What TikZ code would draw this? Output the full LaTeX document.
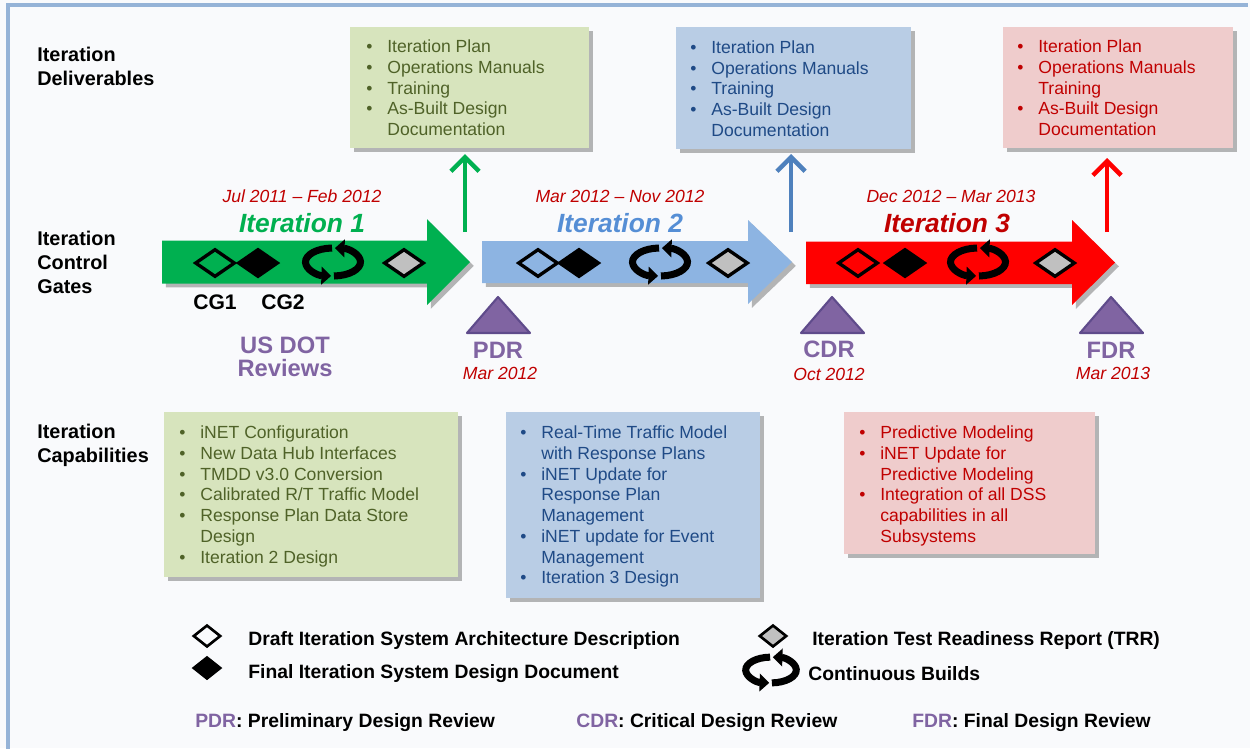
\documentclass[tikz,border=0pt]{standalone}
\usepackage{fontspec}
\setmainfont{Liberation Sans}
\usetikzlibrary{arrows.meta,shapes.geometric,shadows}
\definecolor{bg}{HTML}{F9FAFC}
\definecolor{framec}{HTML}{95B3D7}
\definecolor{igreen}{HTML}{00B050}
\definecolor{iblue}{HTML}{8DB4E2}
\definecolor{ired}{HTML}{FF0000}
\definecolor{ublue}{HTML}{4F81BD}
\definecolor{lblue}{HTML}{558ED5}
\definecolor{dred}{HTML}{C00000}
\definecolor{gfill}{HTML}{D7E4BD}
\definecolor{gtext}{HTML}{4F6228}
\definecolor{bfill}{HTML}{B9CDE5}
\definecolor{btext}{HTML}{1F4A86}
\definecolor{rfill}{HTML}{EFCCCC}
\definecolor{rtext}{HTML}{C00000}
\definecolor{purp}{HTML}{8064A2}
\definecolor{purpd}{HTML}{5F4B8B}
\definecolor{tgray}{HTML}{C0C0C0}
\newcommand\bu{\makebox[11.95pt][l]{\textbullet}}
\newcommand\nb{\hspace*{11.95pt}}
\tikzset{
  shad/.style={drop shadow={shadow xshift=2.2pt, shadow yshift=-2.2pt, opacity=0.4, fill=black!70}},
  box/.style={rectangle, inner sep=0, outer sep=0, anchor=north west, shad},
  boxtext/.style={anchor=north west, inner sep=0, align=left, font=\fontsize{10}{11.8}\selectfont},
  sidelab/.style={anchor=north west, inner sep=0, align=left, font=\fontsize{11.3}{13.5}\selectfont\bfseries},
  itlab/.style={anchor=base, inner sep=0, font=\fontsize{15}{18}\selectfont\bfseries\itshape},
  datelab/.style={anchor=base, inner sep=0, text=dred, font=\fontsize{10}{12}\selectfont\itshape},
  revlab/.style={anchor=base, inner sep=0, text=purp, font=\fontsize{13.5}{16}\selectfont\bfseries},
  cglab/.style={anchor=base, inner sep=0, font=\fontsize{12}{14}\selectfont\bfseries},
  legend/.style={anchor=base west, inner sep=0, font=\fontsize{11}{13}\selectfont\bfseries},
  dia/.style={diamond, draw=black, line width=1.9pt, inner sep=0, minimum width=0.8cm, minimum height=0.56cm},
  ldia/.style={diamond, draw=black, line width=1.5pt, inner sep=0, minimum width=0.55cm, minimum height=0.44cm},
  uparrow/.style={line width=2.6pt, -{Straight Barb[length=8pt, width=16pt]}},
  tri/.style={fill=purp, draw=purpd, line width=1.2pt, line join=round},
  cyc/.pic={
    \draw[line width=4pt, -{Triangle[length=5.5pt, width=10pt]}] (92:0.55cm and 0.28cm) arc[start angle=92, end angle=266, x radius=0.55cm, y radius=0.28cm];
    \draw[line width=4pt, -{Triangle[length=5.5pt, width=10pt]}] (272:0.55cm and 0.28cm) arc[start angle=272, end angle=446, x radius=0.55cm, y radius=0.28cm];
  }
}
\begin{document}
\begin{tikzpicture}[x=0.02cm, y=-0.02cm]
\useasboundingbox (0,0) rectangle (1250,748);
\fill[bg] (0,0) rectangle (1250,748);
\draw[framec, line width=1.8pt] (8,750) -- (8,5) -- (1248,5);

% side labels
\node[sidelab] (sl1) at (37,46.9) {Iteration\\Deliverables};
\node[sidelab] (sl2) at (37,230.9) {Iteration\\Control\\Gates};
\node[sidelab] (sl3) at (37,423.9) {Iteration\\Capabilities};

% deliverable boxes
\node[box, fill=gfill, minimum width=4.78cm, minimum height=2.42cm] (d1) at (350,27) {};
\node[boxtext, text=gtext] (d1t) at (366,39.7) {\bu Iteration Plan\\ \bu Operations Manuals\\ \bu Training\\ \bu As-Built Design\\ \nb Documentation};
\node[box, fill=bfill, minimum width=4.7cm, minimum height=2.44cm] (d2) at (676,27) {};
\node[boxtext, text=btext] (d2t) at (690,40.2) {\bu Iteration Plan\\ \bu Operations Manuals\\ \bu Training\\ \bu As-Built Design\\ \nb Documentation};
\node[box, fill=rfill, minimum width=4.6cm, minimum height=2.42cm] (d3) at (1003,27) {};
\node[boxtext, text=rtext] (d3t) at (1017,39.5) {\bu Iteration Plan\\ \bu Operations Manuals\\ \nb Training\\ \bu As-Built Design\\ \nb Documentation};

% big arrows
\path[fill=igreen, shad] (162,240.5) -- (427,240.5) -- (427,219) -- (470,262) -- (427,305) -- (427,283.5) -- (162,283.5) -- cycle;
\path[fill=iblue, shad] (482,241) -- (748,241) -- (748,220) -- (792,262) -- (748,304) -- (748,283) -- (482,283) -- cycle;
\path[fill=ired, shad] (806,241.5) -- (1072,241.5) -- (1072,220) -- (1115,262.5) -- (1072,305) -- (1072,284) -- (806,284) -- cycle;

% up arrows
\coordinate (u1b) at (465,232); \coordinate (u1t) at (465,154);
\coordinate (u2b) at (791,232); \coordinate (u2t) at (791,154);
\coordinate (u3b) at (1107,232); \coordinate (u3t) at (1107,158);
\draw[uparrow, igreen] (u1b) -- (u1t);
\draw[uparrow, ublue] (u2b) -- (u2t);
\draw[uparrow, ired] (u3b) -- (u3t);

% iteration labels
\node[datelab] (dt1) at (302,202) {Jul 2011 – Feb 2012};
\node[datelab] (dt2) at (620,202) {Mar 2012 – Nov 2012};
\node[datelab] (dt3) at (951,202) {Dec 2012 – Mar 2013};
\node[itlab, text=igreen] (it1) at (302,232.4) {Iteration 1};
\node[itlab, text=lblue] (it2) at (620,232.4) {Iteration 2};
\node[itlab, text=dred] (it3) at (947,232.4) {Iteration 3};

% symbols in arrows
\node[dia] (a1) at (215,263) {};
\node[dia, fill=black] (b1) at (258,263) {};
\pic at (333,262) {cyc};
\node[dia, fill=tgray] (c1) at (404,263) {};
\node[dia] (a2) at (538,263) {};
\node[dia, fill=black] (b2) at (579,263) {};
\pic at (660,262) {cyc};
\node[dia, fill=tgray] (c2) at (728,263) {};
\node[dia] (a3) at (858,263) {};
\node[dia, fill=black] (b3) at (905,263) {};
\pic at (978,262) {cyc};
\node[dia, fill=tgray] (c3) at (1055,263) {};

\node[cglab] (cg1) at (215,309.5) {CG1};
\node[cglab] (cg2) at (283,309.5) {CG2};

% reviews
\node[anchor=north, inner sep=0, align=center, text=purp, font=\fontsize{13.5}{12.9}\selectfont\bfseries] (usdot) at (285,336.5) {US DOT\\Reviews};
\draw[tri] (467,333) -- (498,297) -- (530,333) -- cycle;
\draw[tri] (801,333) -- (832,297) -- (864,333) -- cycle;
\draw[tri] (1080,333) -- (1111,297) -- (1143,333) -- cycle;
\node[revlab] (pdr) at (498,358.5) {PDR};
\node[datelab] (pdrd) at (500,379) {Mar 2012};
\node[revlab] (cdr) at (829,357) {CDR};
\node[datelab] (cdrd) at (829,380) {Oct 2012};
\node[revlab] (fdr) at (1111,358) {FDR};
\node[datelab] (fdrd) at (1113,379) {Mar 2013};

% capability boxes
\node[box, fill=gfill, minimum width=5.88cm, minimum height=3.3cm] (c1b) at (164,412) {};
\node[boxtext, text=gtext] (c1t) at (179,425.7) {\bu iNET Configuration\\ \bu New Data Hub Interfaces\\ \bu TMDD v3.0 Conversion\\ \bu Calibrated R/T Traffic Model\\ \bu Response Plan Data Store\\ \nb Design\\ \bu Iteration 2 Design};
\node[box, fill=bfill, minimum width=5.08cm, minimum height=3.72cm] (c2b) at (506,412) {};
\node[boxtext, text=btext] (c2t) at (520,425.7) {\bu Real-Time Traffic Model\\ \nb with Response Plans\\ \bu iNET Update for\\ \nb Response Plan\\ \nb Management\\ \bu iNET update for Event\\ \nb Management\\ \bu Iteration 3 Design};
\node[box, fill=rfill, minimum width=5.02cm, minimum height=2.84cm] (c3b) at (844,412) {};
\node[boxtext, text=rtext] (c3t) at (859,425.7) {\bu Predictive Modeling\\ \bu iNET Update for\\ \nb Predictive Modeling\\ \bu Integration of all DSS\\ \nb capabilities in all\\ \nb Subsystems};

% legend
\node[ldia] (la) at (207,636) {};
\node[legend] (lat) at (248,645) {Draft Iteration System Architecture Description};
\node[ldia, fill=black] (lb) at (207,668) {};
\node[legend] (lbt) at (248,678) {Final Iteration System Design Document};
\node[ldia, fill=tgray] (lc) at (773,636) {};
\node[legend] (lct) at (812,645) {Iteration Test Readiness Report (TRR)};
\pic[scale=0.92] at (771,670) {cyc};
\node[legend] (ldt) at (808,680) {Continuous Builds};
\node[legend] (lp) at (195,727) {\textcolor{purp}{PDR}: Preliminary Design Review};
\node[legend] (lcd) at (576,727) {\textcolor{purp}{CDR}: Critical Design Review};
\node[legend] (lf) at (912,727) {\textcolor{purp}{FDR}: Final Design Review};
\end{tikzpicture}
\end{document}
